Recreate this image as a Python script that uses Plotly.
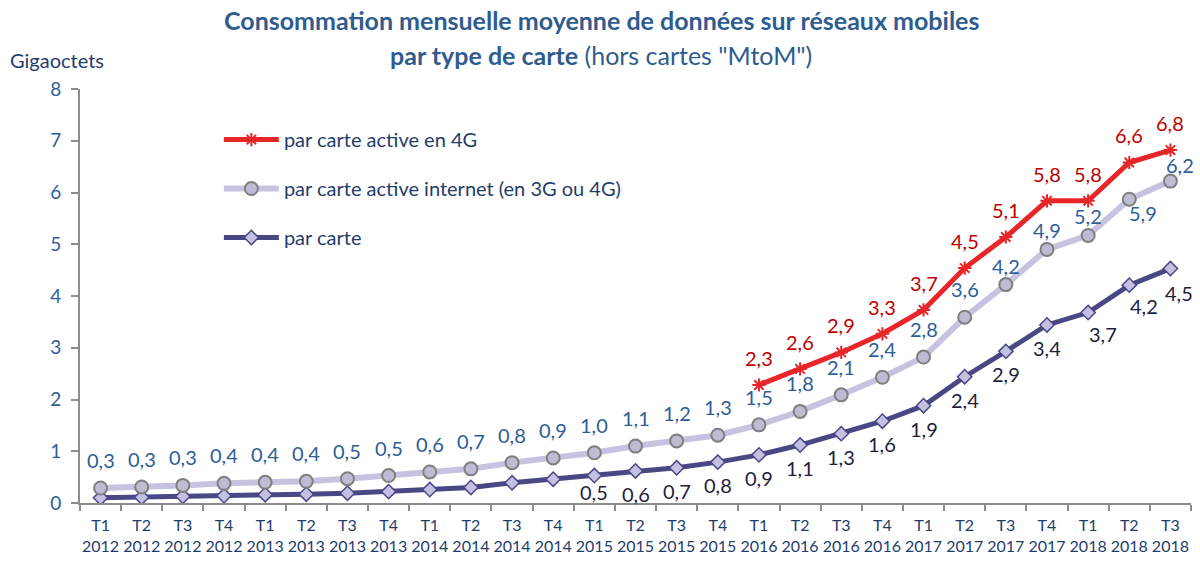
import plotly.graph_objects as go

# Quarters (two-line tick labels)
quarters = ["T1", "T2", "T3", "T4"] * 6 + ["T1", "T2", "T3"]
years = [str(y) for y in range(2012, 2018) for _ in range(4)] + ["2018"] * 3
categories = [f"{q}<br>{y}" for q, y in zip(quarters, years)]

# Average monthly mobile data consumption (GB)
par_carte = [0.10, 0.11, 0.13, 0.14, 0.16, 0.17, 0.19, 0.22, 0.26, 0.30, 0.39, 0.46,
             0.53, 0.62, 0.68, 0.79, 0.93, 1.12, 1.34, 1.58, 1.88, 2.44, 2.93, 3.44,
             3.68, 4.21, 4.53]
par_carte_internet = [0.29, 0.31, 0.34, 0.38, 0.40, 0.42, 0.47, 0.53, 0.60, 0.66, 0.78, 0.87,
                      0.97, 1.10, 1.20, 1.31, 1.51, 1.77, 2.09, 2.43, 2.82, 3.59, 4.22, 4.90,
                      5.17, 5.87, 6.22]
par_carte_4g = [None] * 16 + [2.28, 2.59, 2.91, 3.27, 3.73, 4.54, 5.14, 5.84,
                              5.84, 6.58, 6.82]

FONT = "Lato"
TITLE_BLUE = "#2F5C8F"
LABEL_BLUE = "#2E5E98"
NAVY = "#1F3D6B"
LBL = 20

fig = go.Figure()

fig.add_trace(go.Scatter(
    x=categories, y=par_carte, mode="lines+markers", name="par carte",
    legendgroup="c", legendrank=3, line=dict(color="#4A4785", width=5),
    marker=dict(symbol="diamond", size=11, color="#C3C0E2",
                line=dict(color="#4A4785", width=1.5)),
))
fig.add_trace(go.Scatter(
    x=categories, y=par_carte_internet, mode="lines+markers",
    name="par carte active internet (en 3G ou 4G)", legendgroup="b", legendrank=2,
    line=dict(color="#C6C3E0", width=6),
    marker=dict(symbol="circle", size=13, color="#BEBCD3",
                line=dict(color="#7F7F7F", width=2)),
))
fig.add_trace(go.Scatter(
    x=categories, y=par_carte_4g, mode="lines+markers",
    name="par carte active en 4G", legendgroup="a", legendrank=1,
    line=dict(color="#E8262A", width=5),
    marker=dict(symbol="asterisk-open", size=11,
                line=dict(color="#5A55B0", width=2)),
))


def fmt(v):
    return f"{v:.1f}".replace(".", ",")


annotations = []

# Data labels: 4G series above the points
for i, v in enumerate(par_carte_4g):
    if v is None:
        continue
    annotations.append(dict(x=categories[i], y=v, text=fmt(v), showarrow=False,
                            yshift=27, font=dict(color="#C00000", size=LBL, family=FONT)))

# Internet series labels: above, shifted aside near the end
for i, v in enumerate(par_carte_internet):
    xs, ys = 0, 28
    if i in (22, 23, 24):
        ys = 19
    elif i == 25:
        xs, ys = 14, -14
    elif i == 26:
        xs, ys = 10, 16
    annotations.append(dict(x=categories[i], y=v, text=fmt(v), showarrow=False,
                            xshift=xs, yshift=ys,
                            font=dict(color=LABEL_BLUE, size=LBL, family=FONT)))

# Overall series labels from 2015 onward, below the points
for i, v in enumerate(par_carte):
    if i < 12:
        continue
    xs, ys = 0, -23
    if i == 12:
        ys = -16
    elif i in (24, 25):
        xs, ys = 15, -21
    elif i == 26:
        xs, ys = 9, -24
    annotations.append(dict(x=categories[i], y=v, text=fmt(v), showarrow=False,
                            xshift=xs, yshift=ys,
                            font=dict(color="#1E1E3C", size=LBL, family=FONT)))

# Title and unit
annotations.append(dict(
    xref="paper", yref="paper", x=0.469, y=1, yshift=69, xanchor="center", yanchor="middle",
    showarrow=False,
    text="<b>Consommation mensuelle moyenne de données sur réseaux mobiles</b>",
    font=dict(color=TITLE_BLUE, size=25, family=FONT)))
annotations.append(dict(
    xref="paper", yref="paper", x=0.469, y=1, yshift=34, xanchor="center", yanchor="middle",
    showarrow=False,
    text="<b>par type de carte</b> (hors cartes \"MtoM\")",
    font=dict(color=TITLE_BLUE, size=25, family=FONT)))
annotations.append(dict(
    xref="paper", yref="paper", x=0, xshift=-72, y=1, yshift=29, xanchor="left",
    yanchor="middle", showarrow=False, text="Gigaoctets",
    font=dict(color=NAVY, size=20, family=FONT)))

fig.update_layout(
    width=1200, height=562,
    margin=dict(l=80, r=9, t=89, b=59, autoexpand=False),
    paper_bgcolor="white", plot_bgcolor="white",
    font=dict(family=FONT),
    separators=", ",
    annotations=annotations,
    showlegend=True,
    legend=dict(
        x=0.125, y=0.925, xanchor="left", yanchor="top",
        traceorder="grouped", tracegroupgap=20,
        itemwidth=55,
        font=dict(color=NAVY, size=20, family=FONT),
        bgcolor="rgba(0,0,0,0)",
    ),
    xaxis=dict(
        type="category", range=[-0.5, len(categories) - 0.5], autorange=False,
        showgrid=False, showline=True, linecolor="#8C8C8C",
        linewidth=2, ticks="outside", ticklen=6, tickcolor="#8C8C8C",
        tickwidth=2, tickson="boundaries", tickangle=0, automargin=False,
        ticklabelstandoff=7,
        tickfont=dict(color=NAVY, size=16, family=FONT),
    ),
    yaxis=dict(
        range=[0, 8], autorange=False, dtick=1, showgrid=False, showline=True,
        linecolor="#8C8C8C",
        linewidth=2, ticks="outside", ticklen=7, tickcolor="#8C8C8C", tickwidth=2,
        zeroline=False, automargin=False, ticklabelstandoff=6,
        tickfont=dict(color=LABEL_BLUE, size=19, family=FONT),
    ),
)

fig.write_html("out.html")
